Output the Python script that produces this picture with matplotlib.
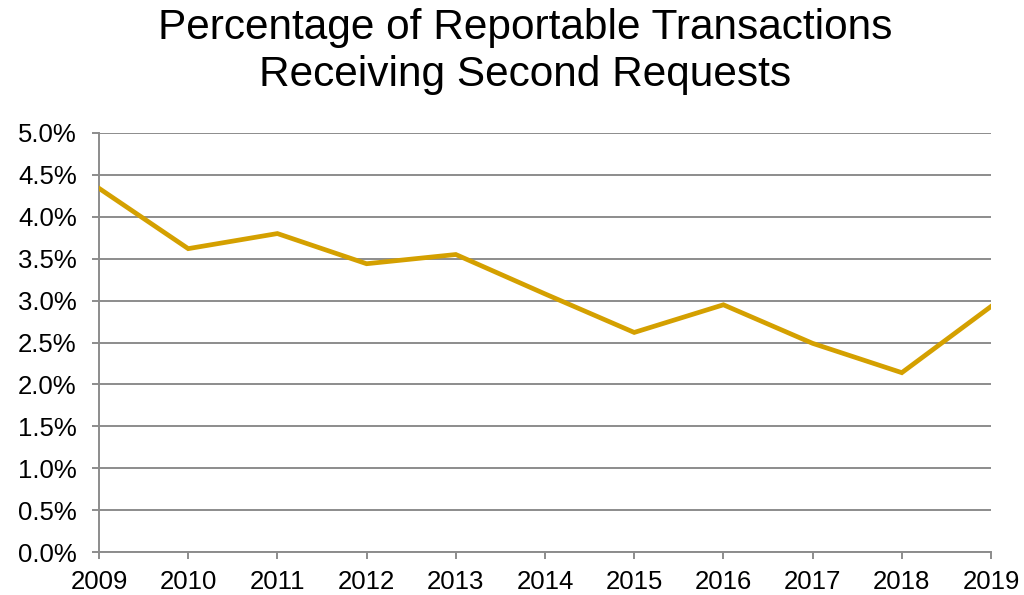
import matplotlib
matplotlib.use("Agg")
import matplotlib.pyplot as plt
from matplotlib.ticker import PercentFormatter, MultipleLocator

years = [2009, 2010, 2011, 2012, 2013, 2014, 2015, 2016, 2017, 2018, 2019]
pct = [4.34, 3.62, 3.80, 3.44, 3.55, 3.08, 2.62, 2.95, 2.49, 2.14, 2.93]
title_lines = ["Percentage of Reportable Transactions", "Receiving Second Requests"]

plt.rcParams['font.family'] = ['Liberation Sans', 'DejaVu Sans']

fig = plt.figure(figsize=(10.24, 5.95), dpi=100)
ax = fig.add_axes([99/1024, 1-552/595, (991-99)/1024, (552-133)/595])

ax.plot(years, pct, color='#D4A000', linewidth=3.4, solid_joinstyle='miter', zorder=3)

ax.set_xlim(2009, 2019)
ax.set_ylim(0, 5.0)
ax.set_xticks(years)
ax.yaxis.set_major_locator(MultipleLocator(0.5))
ax.yaxis.set_major_formatter(PercentFormatter(100, decimals=1))

grid_c = '#8c8c8c'
ax.grid(axis='y', color=grid_c, linewidth=1.4)
ax.set_axisbelow(True)
for s in ['top', 'right']:
    ax.spines[s].set_visible(False)
for s in ['left', 'bottom']:
    ax.spines[s].set_color(grid_c)
    ax.spines[s].set_linewidth(1.4)
ax.tick_params(axis='both', colors=grid_c, labelcolor='black',
               length=5, width=1.4, direction='out')
ax.tick_params(axis='x', pad=8, labelsize=18.5)
ax.tick_params(axis='y', pad=11, labelsize=18.5)

fig.text(525/1024, 1-28/595, title_lines[0], ha='center', va='center', fontsize=30.5)
fig.text(525/1024, 1-75/595, title_lines[1], ha='center', va='center', fontsize=30.5)

fig.savefig("out.png", dpi=100)
